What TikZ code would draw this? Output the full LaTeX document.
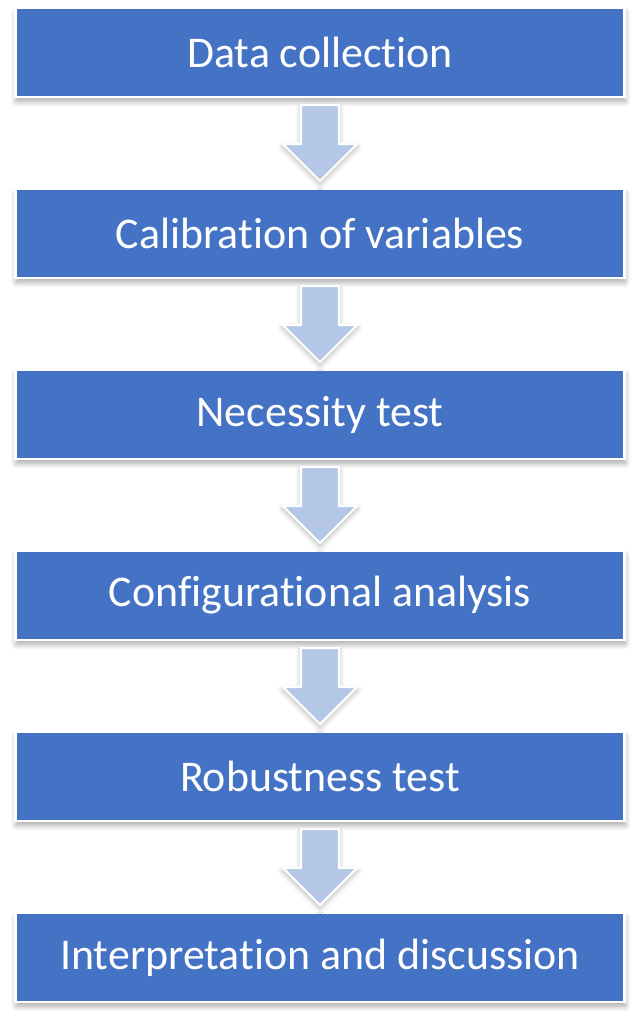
\documentclass[tikz,border=0pt]{standalone}
\usepackage{fontspec}
\setmainfont[Ligatures=NoCommon]{Carlito}
\usepackage{tikz}
\usetikzlibrary{positioning,calc,shadows.blur}

\definecolor{boxblue}{RGB}{68,114,196}
\definecolor{arrowblue}{RGB}{180,199,231}

\begin{document}
\begin{tikzpicture}[
  stage/.style={draw=white, line width=1.5pt, fill=boxblue, outer sep=0pt,
                minimum width=15.225cm, minimum height=2.225cm,
                text=white, font=\fontsize{31.2}{36}\selectfont, inner sep=0pt,
                blur shadow={shadow xshift=0.5pt, shadow yshift=-3pt,
                             shadow blur radius=4pt, shadow opacity=35,
                             shadow blur steps=8}},
  flow/.style={draw=white, line width=1.5pt, fill=arrowblue,
               blur shadow={shadow xshift=0pt, shadow yshift=-2pt,
                            shadow blur radius=4pt, shadow opacity=30,
                            shadow blur steps=8}},
]
  %% Canvas
  \useasboundingbox (0,0) rectangle (16,-25.675);

  %% Stages, top to bottom
  \node[stage] (s1) at (8,-1.3125) {Data collection};
  \node[stage, below=2.3cm of s1] (s2) {Calibration of variables};
  \node[stage, below=2.3cm of s2] (s3) {Necessity test};
  \node[stage, below=2.3cm of s3] (s4) {Configurational analysis};
  \node[stage, below=2.3cm of s4] (s5) {Robustness test};
  \node[stage, below=2.3cm of s5] (s6) {Interpretation and discussion};

  %% Block arrows between stages
  \foreach \i [evaluate=\i as \j using int(\i+1)] in {1,...,5} {
    \path (s\i.south) -- (s\j.north)
      coordinate[pos=0.087] (top\i) coordinate[pos=0.913] (tip\i);
    \draw[flow] ($(top\i)+(-0.475,0)$) -- ($(top\i)+(0.475,0)$)
      -- ($(tip\i)+(0.475,0.925)$) -- ($(tip\i)+(0.925,0.925)$)
      -- (tip\i) -- ($(tip\i)+(-0.925,0.925)$)
      -- ($(tip\i)+(-0.475,0.925)$) -- cycle;
  }
\end{tikzpicture}
\end{document}
